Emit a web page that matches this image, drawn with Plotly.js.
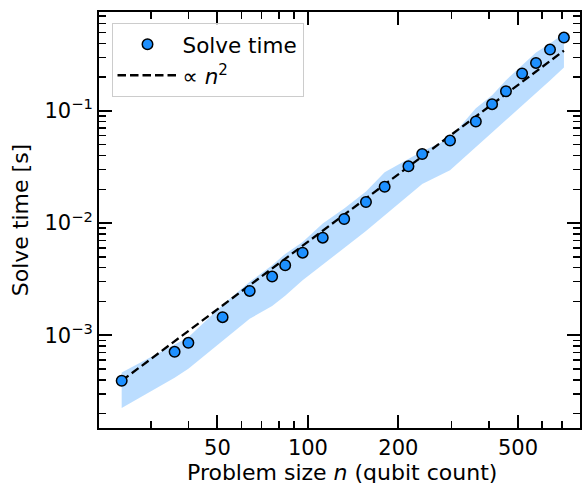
<!DOCTYPE html>
<html>
<head>
<meta charset="utf-8">
<script src="https://cdn.plot.ly/plotly-3.0.1.min.js"></script>
<style>
html,body{margin:0;padding:0;background:#fff;}
#chart{width:584px;height:483px;}
</style>
</head>
<body>
<div id="chart"></div>
<script>
// Problem size n (qubit count)
const n = [24, 36, 40, 52, 64, 76, 84, 96, 112, 132, 156, 180, 216, 240, 297, 362, 410, 456, 516, 574, 639, 711];
// Solve time [s]
const solveTime = [3.92e-4, 7.10e-4, 8.54e-4, 1.446e-3, 2.48e-3, 3.33e-3, 4.20e-3, 5.44e-3, 7.40e-3, 1.086e-2, 1.538e-2, 2.104e-2, 3.20e-2, 4.12e-2, 5.43e-2, 8.04e-2, 0.1147, 0.1497, 0.2153, 0.2676, 0.352, 0.4505];
// Shaded band bounds
const bandLower = [2.24e-4, 4.17e-4, 5.02e-4, 8.81e-4, 1.40e-3, 1.82e-3, 2.24e-3, 3.08e-3, 4.28e-3, 5.99e-3, 8.48e-3, 1.164e-2, 1.746e-2, 2.225e-2, 2.96e-2, 4.82e-2, 6.42e-2, 8.28e-2, 0.111, 0.144, 0.1866, 0.243];
const bandUpper = [4.65e-4, 8.20e-4, 9.59e-4, 1.86e-3, 2.99e-3, 4.19e-3, 5.30e-3, 6.78e-3, 9.90e-3, 1.35e-2, 1.91e-2, 2.84e-2, 3.75e-2, 4.37e-2, 5.71e-2, 0.1057, 0.138, 0.1877, 0.255, 0.331, 0.398, 0.489];
// Fit line (∝ n^2) endpoints
const fitN = [24, 711];
const fitT = [3.92e-4, 0.344];
// Tick labels
const xTickVals = [50, 100, 200, 500];
const xTickText = ['50', '100', '200', '500'];
const xMinorVals = [30, 40, 60, 70, 80, 90, 300, 400, 600, 700, 800];
const yTickVals = [1e-3, 1e-2, 1e-1];
const yTickText = ['10<sup>\u22123</sup>', '10<sup>\u22122</sup>', '10<sup>\u22121</sup>'];
const xTitle = 'Problem size <i>n</i> (qubit count)';
const yTitle = 'Solve time [s]';

const yMinorVals = [];
[1e-4, 1e-3, 1e-2, 1e-1].forEach(function (d) {
  for (let k = 2; k <= 9; k++) yMinorVals.push(k * d);
});

const FONT = 'DejaVu Sans, sans-serif';

const traces = [
  {x: n, y: bandLower, mode: 'lines', line: {width: 0, color: 'rgba(0,0,0,0)'}, showlegend: false, hoverinfo: 'skip'},
  {x: n, y: bandUpper, mode: 'lines', line: {width: 0, color: 'rgba(0,0,0,0)'}, fill: 'tonexty', fillcolor: 'rgba(30,144,255,0.3)', showlegend: false, hoverinfo: 'skip'},
  {x: fitN, y: fitT, mode: 'lines', name: '\u221D <i>n</i><sup>2</sup>', line: {color: 'black', width: 2.3, dash: '8.5px,4px'}},
  {x: n, y: solveTime, mode: 'markers', name: 'Solve time', marker: {symbol: 'circle', size: 10.5, color: '#1E90FF', line: {color: 'black', width: 1.5}}}
];

const axisCommon = {
  type: 'log',
  showgrid: false,
  zeroline: false,
  showline: true,
  linecolor: 'black',
  linewidth: 2,
  mirror: 'allticks',
  ticks: 'inside',
  ticklen: 13,
  tickwidth: 2,
  tickcolor: 'black',
  tickmode: 'array',
  tickfont: {family: FONT, size: 21, color: 'black'},
};

const layout = {
  width: 584,
  height: 483,
  margin: {l: 99, r: 4, t: 12, b: 55},
  paper_bgcolor: 'white',
  plot_bgcolor: 'white',
  font: {family: FONT, size: 21, color: 'black'},
  showlegend: true,
  legend: {
    x: 0.026, y: 0.974, xanchor: 'left', yanchor: 'top',
    traceorder: 'reversed',
    bgcolor: 'rgba(255,255,255,0.8)', bordercolor: '#cccccc', borderwidth: 1,
    font: {family: FONT, size: 21.5, color: 'black'},
    itemwidth: 60,
    tracegroupgap: 0
  },
  xaxis: Object.assign({}, axisCommon, {
    range: [1.3047, 2.9053],
    tickvals: xTickVals,
    ticktext: xTickText,
    minor: {tickmode: 'array', tickvals: xMinorVals, ticks: 'inside', ticklen: 7, tickwidth: 1.5, tickcolor: 'black', showgrid: false}
  }),
  yaxis: Object.assign({}, axisCommon, {
    range: [-3.828, -0.1184],
    tickvals: yTickVals,
    ticktext: yTickText,
    minor: {tickmode: 'array', tickvals: yMinorVals, ticks: 'inside', ticklen: 7, tickwidth: 1.5, tickcolor: 'black', showgrid: false},
    title: {text: yTitle, font: {family: FONT, size: 22, color: 'black'}, standoff: 10}
  }),
  annotations: [{
    text: xTitle, xref: 'paper', yref: 'paper', x: 0.505, y: -0.108,
    xanchor: 'center', yanchor: 'middle', showarrow: false,
    font: {family: FONT, size: 22, color: 'black'}
  }]
};

Plotly.newPlot('chart', traces, layout, {staticPlot: true, displayModeBar: false});
</script>
</body>
</html>
